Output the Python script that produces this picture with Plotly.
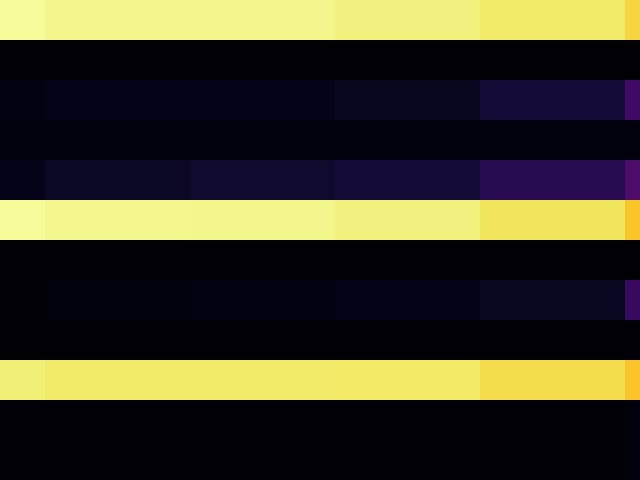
import plotly.graph_objects as go

columns = [0, 1, 2, 3, 4, 5]
rows = list(range(12))

# values per row (top to bottom), one per column
row_00 = [0.988, 0.973, 0.973, 0.961, 0.941, 0.898]
row_01 = [0.004, 0.004, 0.004, 0.004, 0.004, 0.004]
row_02 = [0.032, 0.043, 0.043, 0.055, 0.094, 0.190]
row_03 = [0.027, 0.027, 0.027, 0.027, 0.027, 0.027]
row_04 = [0.043, 0.067, 0.078, 0.094, 0.137, 0.228]
row_05 = [0.988, 0.975, 0.973, 0.961, 0.930, 0.850]
row_06 = [0.004, 0.004, 0.004, 0.004, 0.004, 0.004]
row_07 = [0.008, 0.024, 0.031, 0.040, 0.059, 0.176]
row_08 = [0.004, 0.004, 0.004, 0.004, 0.004, 0.010]
row_09 = [0.953, 0.941, 0.941, 0.939, 0.912, 0.850]
row_10 = [0.008, 0.008, 0.008, 0.008, 0.008, 0.024]
row_11 = [0.008, 0.008, 0.008, 0.008, 0.008, 0.024]

z = [row_00, row_01, row_02, row_03, row_04, row_05,
     row_06, row_07, row_08, row_09, row_10, row_11]

# matplotlib-style inferno samples (index out of 255, colour)
inferno_idx = [0, 4, 8, 12, 16, 20, 24, 28, 35, 40, 48, 56, 85, 113, 142,
               170, 198, 215, 227, 232, 236, 240, 242, 244, 246, 248, 250,
               252, 255]
inferno_hex = ["#000004", "#010109", "#030212", "#06041b", "#0a0723",
               "#0f092d", "#140b36", "#1a0b40", "#260b50", "#2e0a5a",
               "#3e0966", "#4a0b6a", "#781c6d", "#a52c60", "#cf4446",
               "#ed6925", "#fb9b06", "#fac228", "#f7d13d", "#f5db4c",
               "#f3e35a", "#f1e968", "#f1ed71", "#f1f179", "#f2f482",
               "#f3f68a", "#f5f992", "#f8fb9a", "#fcffa4"]
colorscale = [[i / 255, c] for i, c in zip(inferno_idx, inferno_hex)]

fig = go.Figure(go.Heatmap(
    z=z, x=columns, y=rows,
    colorscale=colorscale, zmin=0, zmax=1, showscale=False,
))
fig.update_layout(
    width=640, height=480,
    margin=dict(l=0, r=0, t=0, b=0),
    paper_bgcolor="white", plot_bgcolor="white",
)
fig.update_xaxes(visible=False, range=[0.19, 4.603])
fig.update_yaxes(visible=False, range=[11.5, -0.5])
fig.write_html("out.html")
